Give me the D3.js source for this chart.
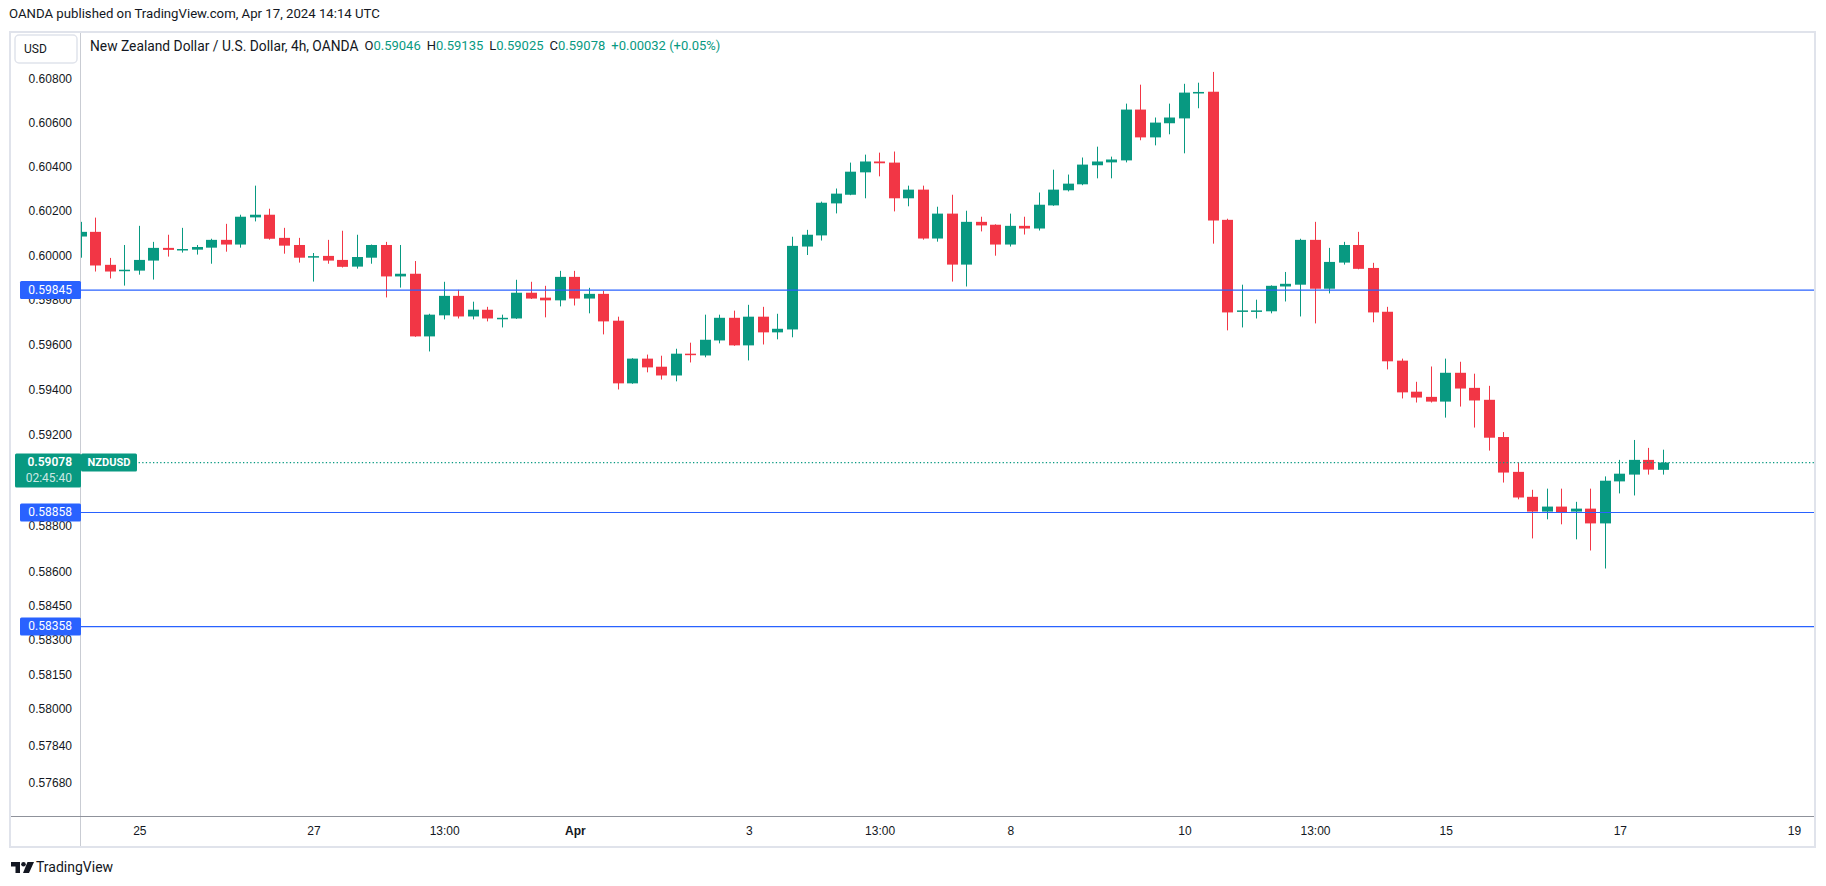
<!DOCTYPE html>
<html>
<head>
<meta charset="utf-8">
<script src="https://cdn.jsdelivr.net/npm/d3@7"></script>
<style>
  html, body { margin: 0; padding: 0; background: #ffffff; }
  svg { display: block; font-family: Roboto, "Noto Sans", "Liberation Sans", sans-serif; }
</style>
</head>
<body>
<svg id="chart" width="1826" height="886"></svg>
<script>
// ---------------- DATA ----------------
const opens = [0.60085,0.60106,0.59958,0.59934,0.59932,0.59977,0.60034,0.60025,0.60026,0.60035,
0.60070,0.60049,0.60171,0.60183,0.60079,0.60047,0.59995,0.59998,0.59980,0.59950,
0.59990,0.60047,0.59906,0.59918,0.59638,0.59732,0.59819,0.59727,0.59757,0.59719,
0.59718,0.59833,0.59811,0.59799,0.59904,0.59807,0.59828,0.59708,0.59429,0.59539,
0.59503,0.59464,0.59561,0.59553,0.59620,0.59721,0.59598,0.59726,0.59656,0.59669,
0.60040,0.60090,0.60234,0.60273,0.60374,0.60423,0.60418,0.60257,0.60296,0.60076,
0.60188,0.59959,0.60151,0.60138,0.60049,0.60133,0.60121,0.60225,0.60293,0.60320,
0.60406,0.60419,0.60428,0.60658,0.60532,0.60596,0.60618,0.60731,0.60739,0.60160,
0.59752,0.59752,0.59750,0.59861,0.59869,0.60070,0.59851,0.59968,0.60047,0.59944,
0.59748,0.59530,0.59392,0.59369,0.59348,0.59476,0.59409,0.59356,0.59191,0.59037,
0.58927,0.58862,0.58884,0.58862,0.58875,0.58810,0.58995,0.59025,0.59090,0.59046];
const highs = [0.60151,0.60170,0.59989,0.60047,0.60133,0.60061,0.60093,0.60124,0.60047,0.60075,
0.60142,0.60183,0.60314,0.60210,0.60124,0.60079,0.60011,0.60070,0.60111,0.60093,
0.60049,0.60061,0.60047,0.59975,0.59739,0.59882,0.59846,0.59793,0.59770,0.59735,
0.59891,0.59882,0.59864,0.59931,0.59931,0.59855,0.59842,0.59726,0.59541,0.59557,
0.59552,0.59583,0.59610,0.59735,0.59735,0.59753,0.59779,0.59770,0.59739,0.60084,
0.60115,0.60242,0.60301,0.60418,0.60454,0.60463,0.60468,0.60314,0.60314,0.60219,
0.60273,0.60201,0.60174,0.60140,0.60188,0.60174,0.60283,0.60386,0.60364,0.60441,
0.60490,0.60445,0.60685,0.60771,0.60622,0.60685,0.60775,0.60780,0.60829,0.60165,
0.59869,0.59802,0.59866,0.59926,0.60075,0.60151,0.60034,0.60061,0.60106,0.59967,
0.59770,0.59539,0.59436,0.59504,0.59539,0.59525,0.59472,0.59418,0.59213,0.59078,
0.58958,0.58963,0.58963,0.58905,0.58963,0.59017,0.59090,0.59178,0.59143,0.59135];
const lows = [0.59990,0.59928,0.59897,0.59865,0.59914,0.59892,0.59995,0.60013,0.60004,0.59963,
0.60017,0.60035,0.60153,0.60071,0.60008,0.59968,0.59883,0.59963,0.59946,0.59941,
0.59963,0.59812,0.59856,0.59636,0.59571,0.59714,0.59718,0.59714,0.59705,0.59678,
0.59716,0.59805,0.59723,0.59772,0.59776,0.59741,0.59647,0.59402,0.59427,0.59478,
0.59446,0.59438,0.59522,0.59545,0.59607,0.59596,0.59531,0.59602,0.59625,0.59634,
0.60002,0.60067,0.60189,0.60271,0.60257,0.60356,0.60198,0.60221,0.60071,0.60062,
0.59883,0.59861,0.60108,0.59999,0.60040,0.60094,0.60112,0.60223,0.60288,0.60316,
0.60347,0.60347,0.60419,0.60519,0.60496,0.60546,0.60460,0.60664,0.60053,0.59665,
0.59678,0.59718,0.59741,0.59794,0.59727,0.59696,0.59830,0.59959,0.59938,0.59701,
0.59491,0.59362,0.59344,0.59344,0.59277,0.59326,0.59233,0.59131,0.58990,0.58916,
0.58744,0.58828,0.58806,0.58740,0.58691,0.58612,0.58942,0.58933,0.59025,0.59025];
const closes = [0.60106,0.59955,0.59928,0.59936,0.59980,0.60034,0.60025,0.60029,0.60038,0.60070,
0.60049,0.60174,0.60183,0.60075,0.60044,0.59990,0.59997,0.59977,0.59949,0.59993,
0.60047,0.59906,0.59918,0.59638,0.59735,0.59819,0.59727,0.59757,0.59718,0.59721,
0.59833,0.59807,0.59799,0.59904,0.59807,0.59828,0.59705,0.59429,0.59539,0.59500,
0.59464,0.59561,0.59559,0.59623,0.59721,0.59598,0.59726,0.59656,0.59672,0.60043,
0.60093,0.60237,0.60278,0.60377,0.60423,0.60415,0.60257,0.60296,0.60076,0.60188,
0.59959,0.60151,0.60135,0.60049,0.60133,0.60121,0.60228,0.60296,0.60323,0.60409,
0.60423,0.60432,0.60658,0.60532,0.60599,0.60622,0.60735,0.60738,0.60157,0.59745,
0.59754,0.59754,0.59864,0.59873,0.60070,0.59851,0.59971,0.60047,0.59940,0.59745,
0.59527,0.59389,0.59366,0.59348,0.59476,0.59406,0.59353,0.59188,0.59034,0.58924,
0.58862,0.58884,0.58858,0.58875,0.58810,0.58998,0.59029,0.59090,0.59047,0.59078];

// bar index of each time-axis label (0 = first visible 4h bar)
const xTickIndex  = [4, 16, 25, 34, 46, 55, 64, 76, 85, 94, 106, 118];
const xTickLabels = ["25", "27", "13:00", "Apr", "3", "13:00", "8", "10", "13:00", "15", "17", "19"];
const yTicks = [0.608, 0.606, 0.604, 0.602, 0.600, 0.598, 0.596, 0.594, 0.592, 0.590, 0.588, 0.586,
                0.5845, 0.583, 0.5815, 0.580, 0.5784, 0.5768];
const levels = [0.59845, 0.58858, 0.58358];
const lastPrice = 0.59078;
const countdown = "02:45:40";
const symbol = "NZDUSD";
const headerText = "OANDA published on TradingView.com, Apr 17, 2024 14:14 UTC";
const titleText = "New Zealand Dollar / U.S. Dollar, 4h, OANDA";
const ohlcLegend = [["O", "0.59046"], ["H", "0.59135"], ["L", "0.59025"], ["C", "0.59078"]];
const changeText = "+0.00032 (+0.05%)";

// ---------------- LAYOUT ----------------
const W = 1826, H = 886;
const plotL = 81, plotR = 1814, plotT = 33, plotB = 816;
const UP = "#089981", DOWN = "#F23645", BLUE = "#2962FF", TXT = "#131722";

const svg = d3.select("#chart");
svg.append("rect").attr("width", W).attr("height", H).attr("fill", "#fff");

const x = d3.scaleLinear().domain([0, 118]).range([81.3, 1794]);
const y = d3.scaleLog().domain([0.5768, 0.608]).range([782.9, 78.3]);

// header
svg.append("text").attr("x", 9).attr("y", 15).attr("dominant-baseline", "middle")
  .attr("font-size", 13.2).attr("fill", TXT).text(headerText);

// frame
svg.append("rect").attr("x", 10).attr("y", 32).attr("width", 1805).attr("height", 815)
  .attr("fill", "none").attr("stroke", "#e0e3eb").attr("stroke-width", 2);

// clip
svg.append("clipPath").attr("id", "plotclip").append("rect")
  .attr("x", plotL).attr("y", plotT).attr("width", plotR - plotL).attr("height", plotB - plotT);
const plot = svg.append("g").attr("clip-path", "url(#plotclip)");

// candles
const data = opens.map((o, i) => ({ i, o, h: highs[i], l: lows[i], c: closes[i] }));
const cg = plot.append("g");
const bw = 11;
data.forEach(d => {
  const cx = x(d.i);
  const left = Math.round(cx - bw / 2);
  const col = d.c >= d.o ? UP : DOWN;
  const yh = y(d.h), yl = y(d.l);
  cg.append("rect").attr("x", left + 5).attr("width", 1)
    .attr("y", yh).attr("height", Math.max(1, yl - yh)).attr("fill", col);
  const yt = y(Math.max(d.o, d.c)), yb = y(Math.min(d.o, d.c));
  cg.append("rect").attr("x", left).attr("width", bw)
    .attr("y", yt).attr("height", Math.max(1.5, yb - yt)).attr("fill", col);
});

// horizontal levels
levels.forEach(v => {
  plot.append("line").attr("x1", plotL).attr("x2", plotR)
    .attr("y1", y(v)).attr("y2", y(v)).attr("stroke", BLUE).attr("stroke-width", 1.2);
});
// last price dotted line
plot.append("line").attr("x1", plotL).attr("x2", plotR)
  .attr("y1", y(lastPrice)).attr("y2", y(lastPrice))
  .attr("stroke", UP).attr("stroke-width", 1.2).attr("stroke-dasharray", "1.3,2.3");

// axes lines
svg.append("line").attr("x1", 80.5).attr("x2", 80.5).attr("y1", 33).attr("y2", 846)
  .attr("stroke", "#c9ccd3").attr("stroke-width", 1);
svg.append("line").attr("x1", 11).attr("x2", 1814).attr("y1", 816.5).attr("y2", 816.5)
  .attr("stroke", "#8f929b").attr("stroke-width", 1);

// y axis ticks (d3 axis)
const yAxis = d3.axisLeft(y).tickValues(yTicks).tickSize(0).tickPadding(0)
  .tickFormat(d3.format(".5f"));
const yg = svg.append("g").attr("transform", "translate(72,0)").call(yAxis);
yg.select(".domain").remove();
yg.selectAll("text").attr("font-size", 12).attr("fill", TXT).attr("font-family", null)
  .attr("x", 0);

// x axis ticks
const xAxis = d3.axisBottom(x).tickValues(xTickIndex).tickSize(0).tickPadding(0)
  .tickFormat((d, k) => xTickLabels[k]);
const xg = svg.append("g").attr("transform", "translate(0,826)").call(xAxis);
xg.select(".domain").remove();
xg.selectAll("text").attr("font-size", 12).attr("fill", TXT).attr("font-family", null)
  .attr("font-weight", (d, k) => xTickLabels[k] === "Apr" ? 600 : 400);

// USD box
svg.append("rect").attr("x", 15).attr("y", 35).attr("width", 62).attr("height", 28).attr("rx", 4)
  .attr("fill", "#fff").attr("stroke", "#e0e3eb").attr("stroke-width", 1.5);
svg.append("text").attr("x", 24).attr("y", 49.5).attr("dominant-baseline", "middle")
  .attr("font-size", 12).attr("fill", TXT).text("USD");

// title
const tt = svg.append("text").attr("x", 90).attr("y", 47).attr("dominant-baseline", "middle")
  .attr("font-size", 13.8).attr("fill", TXT);
tt.append("tspan").text(titleText);
ohlcLegend.forEach(([k, v], j) => {
  tt.append("tspan").attr("dx", j === 0 ? 6 : 6).attr("font-size", 13).attr("fill", TXT).text(k);
  tt.append("tspan").attr("font-size", 13).attr("fill", UP).text(v);
});
tt.append("tspan").attr("dx", 6).attr("font-size", 13).attr("fill", UP).text(changeText);

// level labels on axis
levels.forEach(v => {
  const yy = y(v);
  svg.append("rect").attr("x", 20).attr("y", yy - 9).attr("width", 61).attr("height", 18)
    .attr("rx", 1.5).attr("fill", BLUE);
  svg.append("text").attr("x", 72).attr("y", yy + 0.5).attr("text-anchor", "end")
    .attr("dominant-baseline", "middle").attr("font-size", 12).attr("fill", "#fff")
    .text(d3.format(".5f")(v));
});

// last price label with countdown
const yl = y(lastPrice);
svg.append("rect").attr("x", 15).attr("y", yl - 9).attr("width", 66).attr("height", 34)
  .attr("rx", 1.5).attr("fill", UP);
svg.append("text").attr("x", 72).attr("y", yl + 0.5).attr("text-anchor", "end")
  .attr("dominant-baseline", "middle").attr("font-size", 12).attr("font-weight", 600)
  .attr("fill", "#fff").text(d3.format(".5f")(lastPrice));
svg.append("text").attr("x", 72).attr("y", yl + 16).attr("text-anchor", "end")
  .attr("dominant-baseline", "middle").attr("font-size", 12)
  .attr("fill", "#fff").attr("fill-opacity", 0.8).text(countdown);
svg.append("rect").attr("x", 81).attr("y", yl - 9).attr("width", 56).attr("height", 18)
  .attr("rx", 1.5).attr("fill", UP);
svg.append("text").attr("x", 109).attr("y", yl + 0.5).attr("text-anchor", "middle")
  .attr("dominant-baseline", "middle").attr("font-size", 11).attr("font-weight", 700)
  .attr("fill", "#fff").text(symbol);

// TradingView footer
const logo = svg.append("g").attr("transform", "translate(11,862)").attr("fill", TXT);
logo.append("path").attr("d", "M0 0 H9 V11 H4.5 V4.5 H0 Z");
logo.append("circle").attr("cx", 12.5).attr("cy", 2.3).attr("r", 2.3);
logo.append("path").attr("d", "M16.5 0 H23 L18 11 H12 Z");
svg.append("text").attr("x", 36).attr("y", 868.5).attr("dominant-baseline", "middle")
  .attr("font-size", 14).attr("fill", TXT).text("TradingView");
</script>
</body>
</html>
